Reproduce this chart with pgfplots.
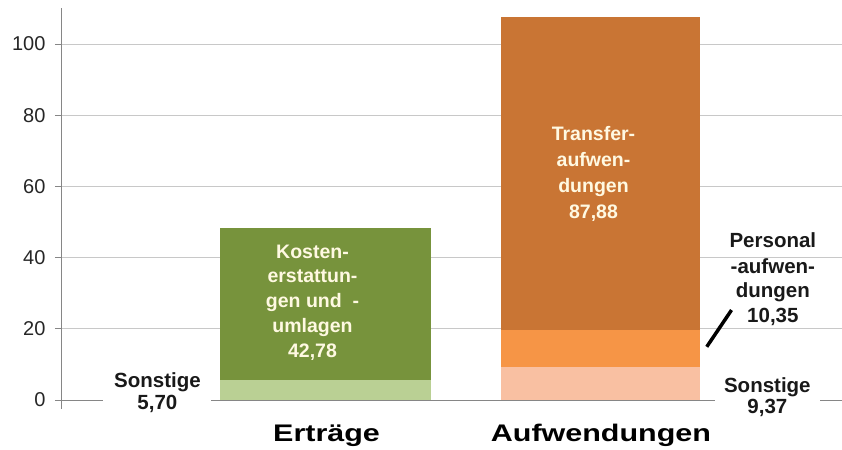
\documentclass[border=0pt]{standalone}
\usepackage{pgfplots}
\pgfplotsset{compat=1.18}
\usepackage{graphicx}
\usepackage{fontspec}
\setmainfont{Liberation Sans}
\definecolor{gDark}{RGB}{119,147,60}
\definecolor{gLight}{RGB}{186,208,148}
\definecolor{oDark}{RGB}{201,117,52}
\definecolor{oMid}{RGB}{246,149,70}
\definecolor{oLight}{RGB}{249,192,162}
\definecolor{lbl}{RGB}{255,249,226}
\definecolor{gridc}{RGB}{200,200,200}
\definecolor{axc}{RGB}{134,134,134}
\tikzset{
 lab/.style={font=\bfseries\fontsize{20.5bp}{24bp}\selectfont, anchor=base, inner sep=0pt, text=black!90},
 inl/.style={font=\bfseries\fontsize{19.5bp}{24bp}\selectfont, anchor=base, inner sep=0pt, text=lbl},
 cat/.style={font=\bfseries\fontsize{24bp}{28bp}\selectfont, anchor=base, inner sep=0pt},
}
\begin{document}
\begin{tikzpicture}
\path[use as bounding box] (0,0) rectangle (842bp,450bp);
\begin{axis}[
 at={(61bp,41bp)}, anchor=south west,
 scale only axis, width=781bp, height=400.5bp,
 xmin=0.04, xmax=2.875, ymin=-2.5, ymax=110,
 axis x line=none, axis y line=left,
 y axis line style={-, draw=axc, line width=0.8bp},
 ytick={20,40,60,80,100},
 extra y ticks={0},
 extra y tick style={grid style={draw=axc, line width=0.9bp}},
 ymajorgrids, grid style={draw=gridc, line width=0.9bp},
 tick align=outside, major tick length=6bp,
 tick style={draw=axc, line width=0.8bp},
 /pgf/number format/assume math mode=true,
 yticklabel style={font=\fontsize{20bp}{24bp}\selectfont, xshift=-6bp, text=black!85},
 xtick=\empty,
 ybar stacked,
 clip=false,
]
\addplot[fill=gLight, draw=none, bar width=211bp] coordinates {(1,5.70) (2,0)};
\addplot[fill=gDark, draw=none, bar width=211bp] coordinates {(1,42.78) (2,0)};
\addplot[fill=oLight, draw=none, bar width=199bp] coordinates {(1,0) (2,9.37)};
\addplot[fill=oMid, draw=none, bar width=199bp] coordinates {(1,0) (2,10.35)};
\addplot[fill=oDark, draw=none, bar width=199bp] coordinates {(1,0) (2,87.88)};

\coordinate (k1) at (axis cs:0.953,39.9);
\coordinate (k2) at (axis cs:0.953,32.9);
\coordinate (k3) at (axis cs:0.953,26.1);
\coordinate (k4) at (axis cs:0.953,19.1);
\coordinate (k5) at (axis cs:0.953,12.1);
\coordinate (t1) at (axis cs:1.973,73.0);
\coordinate (t2) at (axis cs:1.973,65.7);
\coordinate (t3) at (axis cs:1.973,58.4);
\coordinate (t4) at (axis cs:1.973,51.1);
\coordinate (s1) at (axis cs:0.39,3.65);
\coordinate (s2) at (axis cs:0.39,-2.53);
\coordinate (r1) at (axis cs:2.604,2.25);
\coordinate (r2) at (axis cs:2.604,-3.65);
\coordinate (p1) at (axis cs:2.624,42.98);
\coordinate (p2) at (axis cs:2.624,35.67);
\coordinate (p3) at (axis cs:2.624,28.8);
\coordinate (p4) at (axis cs:2.624,21.9);
\coordinate (la) at (axis cs:2.384,14.97);
\coordinate (lb) at (axis cs:2.474,25.3);
\coordinate (c1) at (axis cs:1.004,-11.5);
\coordinate (c2) at (axis cs:2.0,-11.5);
\end{axis}

% inside labels
\node[inl] at (k1) {Kosten-};
\node[inl] at (k2) {erstattun-};
\node[inl] at (k3) {gen und\ \ -};
\node[inl] at (k4) {umlagen};
\node[inl] at (k5) {42,78};
\node[inl] at (t1) {Transfer-};
\node[inl] at (t2) {aufwen-};
\node[inl] at (t3) {dungen};
\node[inl] at (t4) {87,88};

% outside labels
\node[lab, fill=white, minimum width=108bp, inner ysep=3bp] at (s2) {5,70};
\node[lab] at (s1) {Sonstige};
\node[lab, fill=white, minimum width=105bp, inner ysep=3bp] at (r2) {9,37};
\node[lab] at (r1) {Sonstige};
\node[lab] at (p1) {Personal};
\node[lab] at (p2) {-aufwen-};
\node[lab] at (p3) {dungen};
\node[lab] at (p4) {10,35};
\draw[line width=3.5bp, black] (la) -- (lb);

% category labels
\node[cat] at (c1) {\scalebox{1.27}[1]{Erträge}};
\node[cat] at (c2) {\scalebox{1.27}[1]{Aufwendungen}};
\end{tikzpicture}
\end{document}
